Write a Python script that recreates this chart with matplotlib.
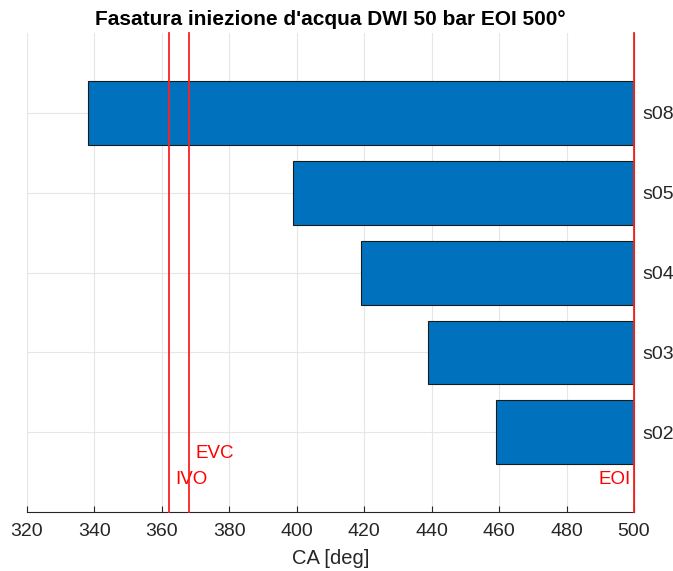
import matplotlib.pyplot as plt

# dati di fasatura (inizio iniezione in gradi CA, fine a EOI)
casi = ['s02', 's03', 's04', 's05', 's08']
inizio = [459, 439, 419, 399, 338]
eoi = 500
ivo = 362
evc = 368

plt.rcParams['font.family'] = ['Liberation Sans', 'DejaVu Sans']

fig = plt.figure(figsize=(6.73, 5.71), dpi=100)
ax = fig.add_axes([0.040, 0.103, 0.902, 0.839])

pos = range(1, len(casi) + 1)
durata = [eoi - s for s in inizio]
ax.barh(pos, durata, left=inizio, height=0.8, color='#0072BD',
        edgecolor='#1a1a1a', linewidth=0.8, zorder=2)

# linee di riferimento
for xv in (ivo, evc, eoi):
    ax.axvline(xv, color='#ff2020', linewidth=1.3, zorder=4, clip_on=False)
ax.text(ivo + 2, 0.41, 'IVO', color='red', fontsize=13.5, va='center', ha='left')
ax.text(evc + 2, 0.735, 'EVC', color='red', fontsize=13.5, va='center', ha='left')
ax.text(eoi - 1, 0.41, 'EOI', color='red', fontsize=13.5, va='center', ha='right')

ax.set_xlim(320, 500)
ax.set_ylim(0, 6)
ax.set_xticks(range(320, 501, 20))
ax.set_yticks(list(pos))
ax.set_yticklabels(casi)
ax.yaxis.tick_right()
ax.tick_params(direction='in', length=4, colors='#262626', labelsize=14)
ax.tick_params(axis='x', pad=8)
ax.tick_params(axis='y', length=0, pad=6)
ax.grid(True, color='#e6e6e6', linewidth=0.8, zorder=0)
ax.set_axisbelow(True)
for side in ('left', 'top'):
    ax.spines[side].set_visible(False)
ax.spines['bottom'].set_color('#262626')
ax.spines['right'].set_color('#262626')

ax.set_xlabel('CA [deg]', fontsize=14.5, color='#262626', labelpad=6.5)
ax.set_title("Fasatura iniezione d'acqua DWI 50 bar EOI 500°",
             fontsize=15, fontweight='bold', pad=6)

fig.savefig('out.png', dpi=100)
